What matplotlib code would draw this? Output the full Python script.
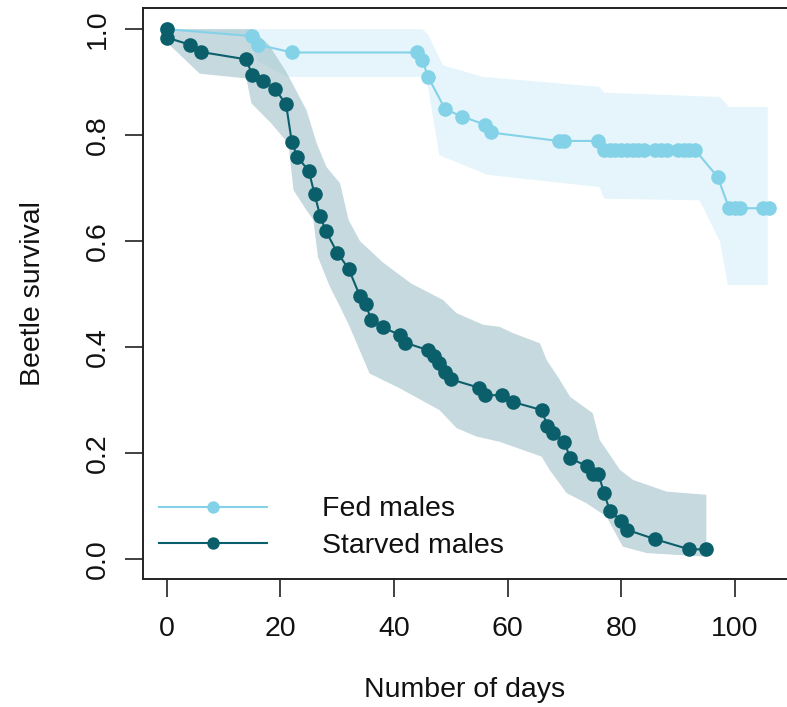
import matplotlib.pyplot as plt
import numpy as np

plt.rcParams['font.family'] = ['Liberation Sans', 'DejaVu Sans']

########   Kaplan-Meier estimates   ###############################

fed_days = [0, 15, 16, 22, 44, 45, 46, 49, 52, 56, 57, 69, 70, 76, 77, 78, 79, 80, 81, 82,
            83, 84, 86, 87, 88, 90, 91, 92, 93, 97, 99, 100, 101, 105, 106]
fed_surv = [1.0, 0.987, 0.971, 0.956, 0.956, 0.941, 0.910, 0.849, 0.835, 0.820, 0.805,
            0.789, 0.789, 0.789, 0.772, 0.772, 0.772, 0.772, 0.772, 0.772, 0.772, 0.772,
            0.772, 0.772, 0.772, 0.772, 0.772, 0.772, 0.772, 0.721, 0.662, 0.662, 0.662,
            0.662, 0.662]

starved_days = [0, 0, 4, 6, 14, 15, 17, 19, 21, 22, 23, 25, 26, 27, 28, 30, 32, 34, 35, 36,
                38, 41, 42, 46, 47, 48, 49, 50, 55, 56, 59, 61, 66, 67, 68, 70, 71, 74, 75,
                76, 77, 78, 80, 81, 86, 92, 95]
starved_surv = [1.0, 0.984, 0.971, 0.957, 0.943, 0.914, 0.902, 0.888, 0.858, 0.787, 0.759,
                0.732, 0.689, 0.647, 0.619, 0.578, 0.548, 0.496, 0.481, 0.451, 0.437, 0.423,
                0.408, 0.394, 0.383, 0.369, 0.352, 0.339, 0.323, 0.309, 0.309, 0.296, 0.281,
                0.251, 0.237, 0.221, 0.190, 0.175, 0.160, 0.160, 0.124, 0.091, 0.072, 0.055,
                0.037, 0.018, 0.018]

# confidence bands (upper and lower edges)
fed_up_days = [0, 45, 46, 48.6, 55.6, 76.2, 77, 97.4, 99, 105.8]
fed_up = [1.0, 1.0, 0.99, 0.932, 0.91, 0.891, 0.88, 0.872, 0.853, 0.853]
fed_lo_days = [0, 14, 16, 21, 45.7, 48, 56.5, 76.2, 77, 93.8, 97.4, 98.8, 105.8]
fed_lo = [1.0, 0.99, 0.94, 0.91, 0.91, 0.762, 0.725, 0.702, 0.68, 0.677, 0.599, 0.517, 0.517]

st_up_days = [0, 15, 18, 21, 24.6, 26.4, 28.1, 30.5, 32, 34, 38, 43, 48.6, 51, 55.7, 58.6,
              61, 65.7, 66.9, 69.2, 71, 75, 76.2, 79.8, 82.1, 88, 95]
st_up = [1.0, 1.0, 0.97, 0.92, 0.847, 0.784, 0.74, 0.709, 0.64, 0.6, 0.56, 0.52, 0.489,
         0.464, 0.442, 0.438, 0.426, 0.407, 0.375, 0.338, 0.306, 0.275, 0.225, 0.168,
         0.149, 0.127, 0.121]
st_lo_days = [0, 0.5, 5.8, 14, 14.9, 18.4, 21.4, 22.3, 24.6, 25.8, 26.6, 28.7, 30.5, 32.2,
              35.7, 41, 48, 51, 54.5, 58.6, 61, 66, 67.4, 70.4, 73.9, 77.4, 80.3, 84.5, 95]
st_lo = [1.0, 0.97, 0.916, 0.907, 0.86, 0.822, 0.784, 0.696, 0.658, 0.64, 0.57, 0.514,
         0.476, 0.438, 0.35, 0.322, 0.281, 0.247, 0.231, 0.221, 0.212, 0.193, 0.168, 0.124,
         0.105, 0.08, 0.023, 0.011, 0.004]

fed_col = '#84d2e8'
starved_col = '#0b5f6b'
fs = 20.5

fig = plt.figure(figsize=(7.87, 7.07), dpi=100)
ax = fig.add_axes([143/787., 128/707., 644/787., 571/707.])

ax.fill(np.concatenate([fed_up_days, fed_lo_days[::-1]]),
        np.concatenate([fed_up, fed_lo[::-1]]), color='#e5f5fb', lw=0, zorder=1)
ax.fill(np.concatenate([st_up_days, st_lo_days[::-1]]),
        np.concatenate([st_up, st_lo[::-1]]), color='#9dbfc8', alpha=0.58, lw=0, zorder=2)

ax.plot(fed_days, fed_surv, c=fed_col, lw=1.5, marker='o', ms=10.5, mec='none',
        label='Fed males', zorder=3)
ax.plot(starved_days, starved_surv, c=starved_col, lw=1.5, marker='o', ms=10.5, mec='none',
        label='Starved males', zorder=4)

ax.set_xlim(-4.2, 109.2)
ax.set_ylim(-0.038, 1.040)
ax.set_xticks([0, 20, 40, 60, 80, 100])
ax.set_yticks([0.0, 0.2, 0.4, 0.6, 0.8, 1.0])
ax.set_yticklabels(['0.0', '0.2', '0.4', '0.6', '0.8', '1.0'], rotation=90, va='center')
ax.tick_params(length=13, width=1.3, color='#333333', labelsize=fs, labelcolor='#111111')
ax.tick_params(axis='x', pad=14)
ax.tick_params(axis='y', pad=10)
for s in ['left', 'top', 'bottom']:
    ax.spines[s].set_linewidth(1.4)
    ax.spines[s].set_color('#222222')
ax.spines['right'].set_visible(False)

ax.set_xlabel('Number of days', fontsize=fs, labelpad=25, color='#111111')
ax.set_ylabel('Beetle survival', fontsize=fs, labelpad=28, color='#111111')

leg = ax.legend(loc='upper left', bbox_to_anchor=(16/644., 0.1445), frameon=False, fontsize=fs,
                handlelength=3.8, handletextpad=1.93, labelspacing=0.38, borderpad=0,
                borderaxespad=0, markerscale=0.85)
for t in leg.get_texts():
    t.set_color('#111111')

plt.savefig('out.png')
